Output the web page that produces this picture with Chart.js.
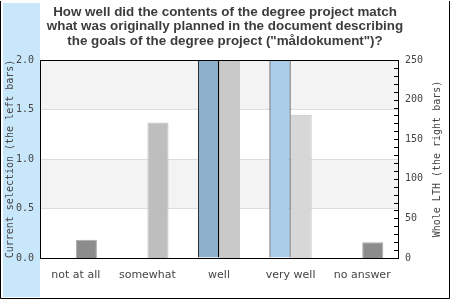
<!DOCTYPE html>
<html>
<head>
<meta charset="utf-8">
<script src="https://cdn.jsdelivr.net/npm/chart.js@4"></script>
<style>
  html, body { margin: 0; padding: 0; background: #fff; }
  #wrap { width: 450px; height: 300px; }
</style>
</head>
<body>
<div id="wrap"><canvas id="answers" width="450" height="300"></canvas></div>
<script>
// question / answer categories
const categories = ["not at all", "somewhat", "well", "very well", "no answer"];
// current selection (left bars, left axis)
const currentSel = [0, 0, 2, 2, 0];
// whole LTH (right bars, right axis)
const wholeLTH = [23, 171, 250, 181, 20];

const titleLines = [
  "How well did the contents of the degree project match",
  "what was originally planned in the document describing",
  "the goals of the degree project (\"måldokument\")?"
];
const leftTitle = "Current selection (the left bars)";
const rightTitle = "Whole LTH (the right bars)";

const leftColors = ["#8fb0ca", "#8fb0ca", "#8fb0ca", "#abcde9", "#8fb0ca"];
const rightColors = ["#8c8c8c", "#bebebe", "#c9c9c9", "#d7d7d7", "#8c8c8c"];
const rightBorders = ["#ababab", "#bebebe", "#c0c0c0", "#c4c4c4", "#ababab"];

const mono = "'DejaVu Sans Mono', monospace";

const frame = {
  id: "frame",
  beforeDraw(chart) {
    const ctx = chart.ctx;
    const a = chart.chartArea;
    const y = chart.scales.y;
    ctx.save();
    ctx.fillStyle = "#c9e7fb";
    ctx.fillRect(3, 3, 37, 294);
    // alternating bands
    const steps = [0, 0.5, 1, 1.5, 2];
    for (let i = 0; i < steps.length - 1; i++) {
      const top = y.getPixelForValue(steps[i + 1]);
      const bot = y.getPixelForValue(steps[i]);
      ctx.fillStyle = i % 2 === 1 ? "#f3f3f3" : "#ffffff";
      ctx.fillRect(a.left, top, a.right - a.left, bot - top);
    }
    ctx.restore();
  },
  afterDraw(chart) {
    const ctx = chart.ctx;
    const a = chart.chartArea;
    const y1 = chart.scales.y1;
    ctx.save();
    ctx.strokeStyle = "#000";
    ctx.lineWidth = 1;
    ctx.beginPath();
    ctx.moveTo(a.left, Math.round(a.top) + 0.5);
    ctx.lineTo(a.right, Math.round(a.top) + 0.5);
    ctx.stroke();
    // minor ticks inside on right axis
    ctx.beginPath();
    for (let v = 0; v <= 250; v += 10) {
      const py = Math.round(y1.getPixelForValue(v)) + 0.5;
      ctx.moveTo(a.right - 4, py);
      ctx.lineTo(a.right, py);
    }
    ctx.stroke();
    // outer border
    ctx.beginPath();
    ctx.moveTo(0.5, 1);
    ctx.lineTo(0.5, 298.5);
    ctx.lineTo(449.5, 298.5);
    ctx.lineTo(449.5, 1);
    ctx.stroke();
    // right axis title, reading bottom to top
    ctx.translate(437, (a.top + a.bottom) / 2);
    ctx.rotate(-Math.PI / 2);
    ctx.fillStyle = "#444";
    ctx.font = "10px " + mono;
    ctx.textAlign = "center";
    ctx.textBaseline = "middle";
    ctx.fillText(rightTitle, 0, 0);
    ctx.restore();
  }
};

new Chart(document.getElementById("answers"), {
  type: "bar",
  data: {
    labels: categories,
    datasets: [
      {
        label: leftTitle,
        data: currentSel,
        yAxisID: "y",
        backgroundColor: leftColors,
        borderColor: "#000",
        borderWidth: 1
      },
      {
        label: rightTitle,
        data: wholeLTH,
        yAxisID: "y1",
        backgroundColor: rightColors,
        borderColor: rightBorders,
        borderWidth: 1
      }
    ]
  },
  options: {
    responsive: false,
    animation: false,
    events: [],
    categoryPercentage: 0.59,
    barPercentage: 1,
    layout: { padding: 0 },
    plugins: {
      legend: { display: false },
      tooltip: { enabled: false },
      title: {
        display: true,
        text: titleLines,
        color: "#3c3c3c",
        font: { family: "'Liberation Sans', Arial, sans-serif", size: 13.4, weight: "bold", lineHeight: "14.5px" },
        padding: { top: 5, bottom: 11.5 }
      }
    },
    scales: {
      x: {
        grid: { display: false, drawTicks: false },
        border: { color: "#000", width: 1 },
        ticks: { color: "#444", padding: 11, font: { family: "'DejaVu Sans', sans-serif", size: 11 }, maxRotation: 0 },
        afterFit(s) { s.height = 42; }
      },
      y: {
        position: "left",
        min: 0,
        max: 2,
        ticks: { stepSize: 0.5, color: "#444", padding: 6, font: { family: mono, size: 10 }, callback: v => v.toFixed(1) },
        grid: { color: "#dddddd", drawTicks: false },
        border: { color: "#000", width: 1 },
        title: { display: true, text: leftTitle, color: "#444", font: { family: mono, size: 10 }, padding: { top: 4, bottom: 0 } },
        afterFit(s) { s.width = 40; }
      },
      y1: {
        position: "right",
        min: 0,
        max: 250,
        ticks: { stepSize: 50, color: "#444", padding: 7, font: { family: mono, size: 10 } },
        grid: { display: false, drawTicks: false },
        border: { color: "#000", width: 1 },
        afterFit(s) { s.width = 52; }
      }
    }
  },
  plugins: [frame]
});
</script>
</body>
</html>
